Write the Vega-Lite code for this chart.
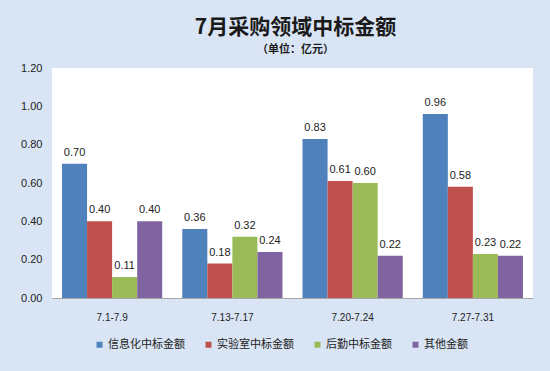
{
  "$schema": "https://vega.github.io/schema/vega-lite/v6.json",
  "width": 481,
  "height": 230,
  "autosize": {"type": "none"},
  "padding": {"left": 52, "top": 68, "right": 17, "bottom": 73},
  "background": "#d9e5f4",
  "title": {
    "text": "7月采购领域中标金额",
    "subtitle": "（单位：亿元）",
    "anchor": "middle",
    "frame": "group",
    "dx": 3,
    "font": "Noto Sans CJK SC",
    "fontSize": 21,
    "fontWeight": "bold",
    "color": "#1a1a1a",
    "subtitleFont": "Noto Sans CJK SC",
    "subtitleFontSize": 11,
    "subtitleFontWeight": "bold",
    "subtitleColor": "#1a1a1a",
    "subtitlePadding": 6,
    "offset": 7
  },
  "data": {
    "values": [
      {"period": "7.1-7.9", "series": "信息化中标金额", "value": 0.70},
      {"period": "7.1-7.9", "series": "实验室中标金额", "value": 0.40},
      {"period": "7.1-7.9", "series": "后勤中标金额", "value": 0.11},
      {"period": "7.1-7.9", "series": "其他金额", "value": 0.40},
      {"period": "7.13-7.17", "series": "信息化中标金额", "value": 0.36},
      {"period": "7.13-7.17", "series": "实验室中标金额", "value": 0.18},
      {"period": "7.13-7.17", "series": "后勤中标金额", "value": 0.32},
      {"period": "7.13-7.17", "series": "其他金额", "value": 0.24},
      {"period": "7.20-7.24", "series": "信息化中标金额", "value": 0.83},
      {"period": "7.20-7.24", "series": "实验室中标金额", "value": 0.61},
      {"period": "7.20-7.24", "series": "后勤中标金额", "value": 0.60},
      {"period": "7.20-7.24", "series": "其他金额", "value": 0.22},
      {"period": "7.27-7.31", "series": "信息化中标金额", "value": 0.96},
      {"period": "7.27-7.31", "series": "实验室中标金额", "value": 0.58},
      {"period": "7.27-7.31", "series": "后勤中标金额", "value": 0.23},
      {"period": "7.27-7.31", "series": "其他金额", "value": 0.22}
    ]
  },
  "encoding": {
    "x": {
      "field": "period",
      "type": "nominal",
      "sort": ["7.1-7.9", "7.13-7.17", "7.20-7.24", "7.27-7.31"],
      "scale": {"paddingInner": 0.1667, "paddingOuter": 0.0833},
      "axis": {
        "title": null,
        "labelAngle": 0,
        "ticks": false,
        "domain": true,
        "domainColor": "#a6a6a6",
        "labelPadding": 14,
        "labelFont": "Liberation Sans",
        "labelFontSize": 10,
        "labelColor": "#222222",
        "grid": false
      }
    },
    "xOffset": {
      "field": "series",
      "sort": ["信息化中标金额", "实验室中标金额", "后勤中标金额", "其他金额"]
    },
    "y": {
      "field": "value",
      "type": "quantitative",
      "scale": {"domain": [0, 1.2]},
      "axis": {
        "title": null,
        "values": [0, 0.2, 0.4, 0.6, 0.8, 1.0, 1.2],
        "format": ".2f",
        "ticks": false,
        "domain": false,
        "grid": false,
        "labelPadding": 10,
        "labelFont": "Liberation Sans",
        "labelFontSize": 11,
        "labelColor": "#222222"
      }
    }
  },
  "layer": [
    {
      "mark": {"type": "bar"},
      "encoding": {
        "color": {
          "field": "series",
          "type": "nominal",
          "sort": ["信息化中标金额", "实验室中标金额", "后勤中标金额", "其他金额"],
          "scale": {
            "domain": ["信息化中标金额", "实验室中标金额", "后勤中标金额", "其他金额"],
            "range": ["#4f81bd", "#c0504d", "#9bbb59", "#8064a2"]
          },
          "legend": {
            "title": null,
            "orient": "none",
            "direction": "horizontal",
            "legendX": 42,
            "legendY": 271,
            "symbolType": "square",
            "symbolSize": 36,
            "symbolStrokeWidth": 0,
            "labelFont": "Noto Sans CJK SC",
            "labelFontSize": 11,
            "labelColor": "#222222",
            "labelOffset": 3,
            "columnPadding": 18
          }
        }
      }
    },
    {
      "mark": {
        "type": "text",
        "baseline": "bottom",
        "dy": -6,
        "font": "Liberation Sans",
        "fontSize": 11,
        "color": "#222222"
      },
      "encoding": {
        "text": {"field": "value", "type": "quantitative", "format": ".2f"}
      }
    }
  ],
  "config": {
    "view": {"fill": "white", "stroke": null}
  }
}
